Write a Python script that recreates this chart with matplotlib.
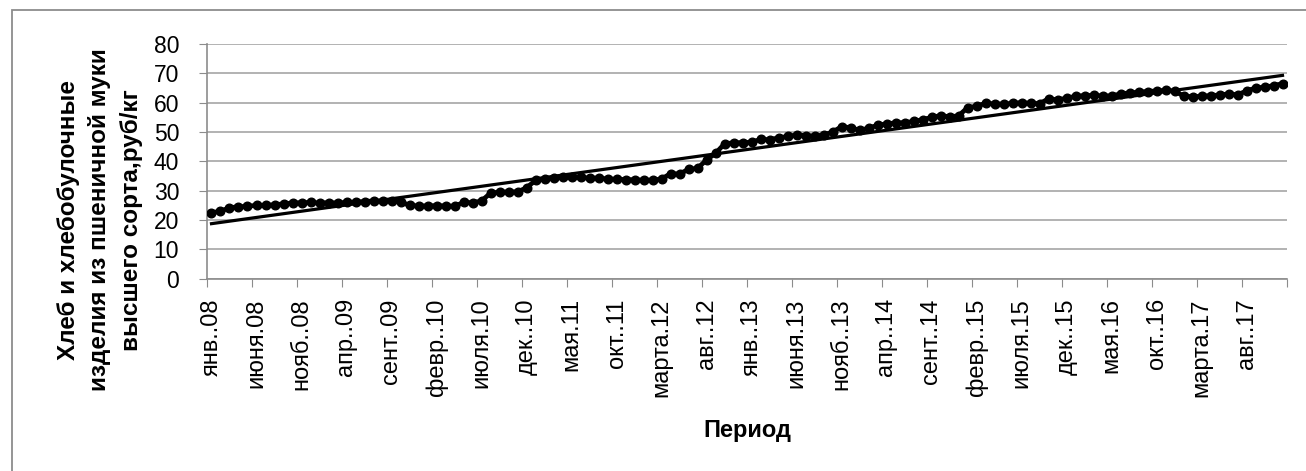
import numpy as np
import matplotlib
matplotlib.use("Agg")
import matplotlib.pyplot as plt
from matplotlib.patches import Rectangle

plt.rcParams['font.family'] = ['Liberation Sans', 'DejaVu Sans']

# monthly prices, Jan 2008 .. Dec 2017, rub/kg
prices = [
    22.5, 23.0, 24.2, 24.5, 24.7, 25.0, 25.0, 25.2, 25.5, 25.8, 25.9, 26.0,
    25.8, 25.9, 25.8, 26.0, 26.1, 26.3, 26.5, 26.5, 26.6, 26.2, 25.0, 24.8,
    24.8, 24.9, 24.8, 24.7, 26.0, 25.9, 26.5, 29.2, 29.5, 29.6, 29.6, 31.0,
    33.5, 34.0, 34.3, 34.5, 34.6, 34.5, 34.3, 34.3, 34.0, 33.9, 33.8, 33.7,
    33.6, 33.6, 34.0, 35.8, 35.7, 37.3, 37.6, 40.5, 42.7, 46.0, 46.3, 46.4,
    46.5, 47.5, 47.4, 48.0, 48.5, 49.0, 48.8, 48.6, 49.0, 50.0, 51.8, 51.5,
    50.6, 51.3, 52.3, 52.8, 53.1, 53.2, 53.6, 54.2, 55.0, 55.6, 55.2, 55.5,
    58.3, 58.8, 59.8, 59.6, 59.5, 59.8, 60.0, 59.8, 59.7, 61.3, 61.0, 61.5,
    62.2, 62.4, 62.5, 62.3, 62.3, 63.0, 63.3, 63.6, 63.8, 64.0, 64.2, 64.0,
    62.3, 62.0, 62.2, 62.4, 62.6, 63.0, 62.7, 64.0, 65.0, 65.3, 65.8, 66.5,
]

tick_labels = [
    'янв..08', 'июня.08', 'нояб..08', 'апр..09', 'сент..09', 'февр..10',
    'июля.10', 'дек..10', 'мая.11', 'окт..11', 'марта.12', 'авг..12',
    'янв..13', 'июня.13', 'нояб..13', 'апр..14', 'сент..14', 'февр..15',
    'июля.15', 'дек..15', 'мая.16', 'окт..16', 'марта.17', 'авг..17',
]
tick_step = 5

y_title = 'Хлеб и хлебобулочные\nизделия из пшеничной муки\nвысшего сорта,руб/кг'
x_title = 'Период'

W, H = 1306, 471
fig = plt.figure(figsize=(W / 100, H / 100), dpi=100)
ax = fig.add_axes([207 / W, (H - 278.7) / H, 1080 / W, 234.7 / H])

x = np.arange(len(prices))
ax.plot(x, prices, color='black', lw=3.4, marker='o', ms=6.2, zorder=3)

# linear trend, as the Excel trendline
k, b = np.polyfit(x, prices, 1)
ax.plot(x, k * x + b, color='black', lw=2.3, zorder=4)

grey = '#8c8c8c'
ax.set_xlim(-0.5, len(prices) - 0.5)
ax.set_ylim(0, 80)
ax.set_yticks(range(0, 81, 10))
ax.yaxis.grid(True, color='#a6a6a6', lw=1.2)
ax.set_axisbelow(True)

ax.set_xticks(np.arange(-0.5, len(prices), tick_step))
ax.set_xticks(x[::tick_step], minor=True)
ax.set_xticklabels(tick_labels, minor=True, rotation=90, va='top')
ax.tick_params(axis='x', which='major', length=6, color=grey, labelbottom=False)
ax.tick_params(axis='x', which='minor', length=0, pad=14, labelsize=17)
ax.tick_params(axis='y', length=6, color=grey, pad=14, labelsize=16.5)

for s in ['top', 'right']:
    ax.spines[s].set_visible(False)
for s in ['left', 'bottom']:
    ax.spines[s].set_color(grey)
    ax.spines[s].set_linewidth(1.2)

fig.text(100 / W, 1 - 220 / H, y_title, rotation=90, ha='center', va='center',
         multialignment='center', fontsize=17.5, fontweight='bold', linespacing=1.45)
fig.text(747 / W, 1 - 430 / H, x_title, ha='center', va='center',
         fontsize=17, fontweight='bold')

fig.patches.append(Rectangle((12 / W, -0.1), 1.2, 1 - 10 / H + 0.1,
                             transform=fig.transFigure, fill=False,
                             ec=grey, lw=1.3))

fig.savefig('out.png', dpi=100)
